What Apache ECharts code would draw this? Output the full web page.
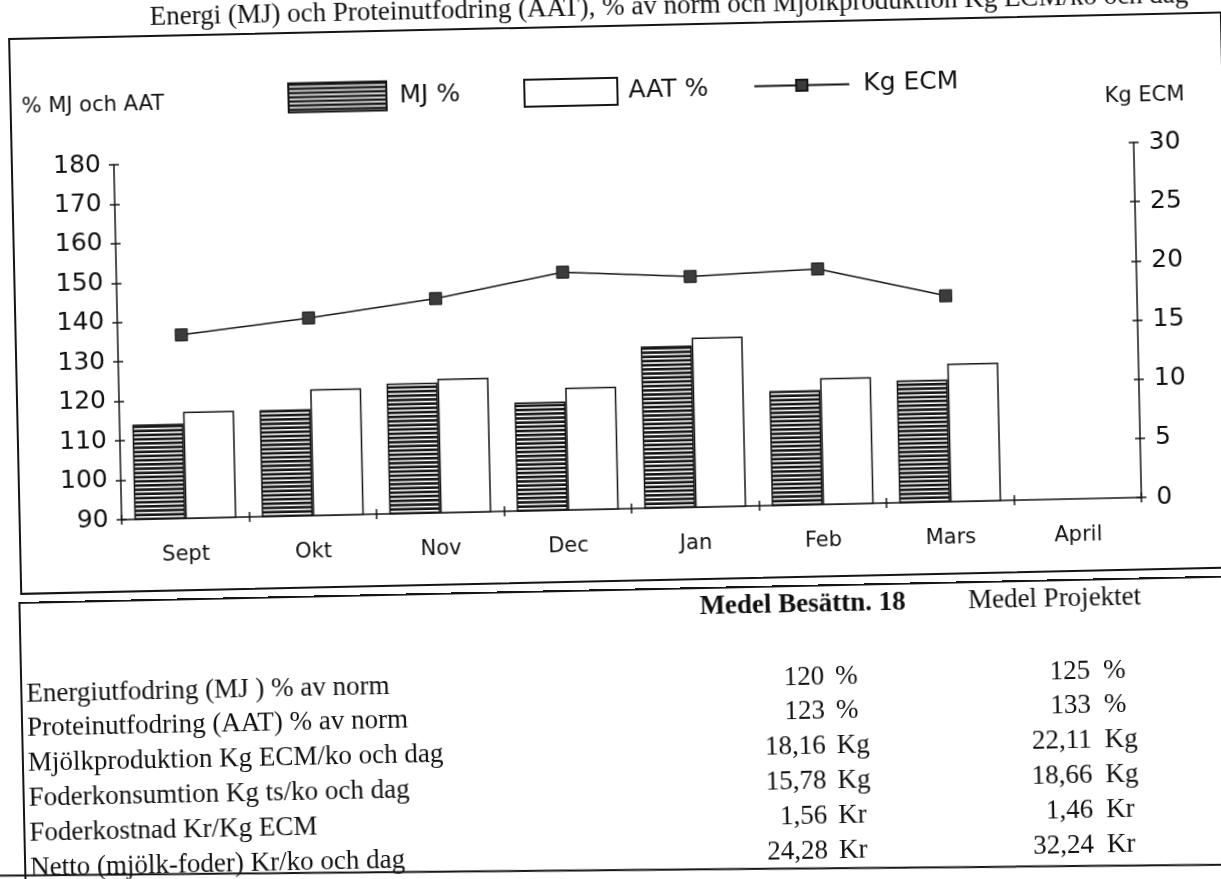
<!DOCTYPE html>
<html>
<head>
<meta charset="utf-8">
<script src="https://cdn.jsdelivr.net/npm/echarts@6/dist/echarts.min.js"></script>
<style>
  html, body { margin: 0; padding: 0; background: #fff; width: 1221px; height: 879px; overflow: hidden; }
  /* whole sheet, slightly turned as on the scanned page */
  #page { position: absolute; left: 0; top: 0; width: 1221px; height: 879px;
          transform-origin: 610.5px 439.5px; transform: rotate(-1.25deg); }
  #frame { position: absolute; left: 17px; top: 25px; width: 1214px; height: 557px;
           border: 2px solid #151515; box-sizing: border-box; }
  /* canvas starts 30px above the sheet so the title is not cut by it */
  #chart { position: absolute; left: 0; top: -30px; width: 1221px; height: 630px; }
  #tableBox { position: absolute; left: 15px; top: 589px; width: 1240px; height: 300px;
              border-top: 2px solid #151515; border-left: 2px solid #151515; box-sizing: border-box; }
  #tableBottom { position: absolute; left: -10px; top: 869px; width: 1260px; height: 2px; background: #151515;
                 transform-origin: 600px 1px; transform: rotate(0.74deg); }
  .t { position: absolute; font-family: "Liberation Serif", "Times New Roman", serif; font-size: 27px;
       color: #111; white-space: nowrap; height: 34.8px; line-height: 34.8px; }
  .hd { transform: translateX(-50%); }
  .num { text-align: right; }
</style>
</head>
<body>
<div id="page">
  <div id="frame"></div>
  <div id="chart"></div>
  <div id="tableBox"></div>
  <div id="tableBottom"></div>
  <div id="table"></div>
</div>
<script>
// Monthly feeding level (% of norm) and milk yield
const months = ['Sept', 'Okt', 'Nov', 'Dec', 'Jan', 'Feb', 'Mars', 'April'];
const mjPct  = [114, 117, 123, 117.5, 131, 119, 121, null];
const aatPct = [117, 122, 124, 121, 133, 122, 125, null];
const kgEcm  = [15.5, 16.7, 18.1, 20.1, 19.5, 19.9, 17.4, null];

// Summary table below the chart
const rowLabels = [
  'Energiutfodring (MJ ) % av norm',
  'Proteinutfodring (AAT) % av norm',
  'Mjölkproduktion Kg ECM/ko och dag',
  'Foderkonsumtion Kg ts/ko och dag',
  'Foderkostnad Kr/Kg ECM',
  'Netto (mjölk-foder) Kr/ko och dag'
];
const colHeaders = ['Medel Besättn. 18', 'Medel Projektet'];
const besattning = ['120', '123', '18,16', '15,78', '1,56', '24,28'];
const projektet  = ['125', '133', '22,11', '18,66', '1,46', '32,24'];
const units      = ['%', '%', 'Kg', 'Kg', 'Kr', 'Kr'];

// ---- table ----
const table = document.getElementById('table');
function cell(text, css, cls) {
  const d = document.createElement('div');
  d.className = 't' + (cls ? ' ' + cls : '');
  d.textContent = text;
  Object.assign(d.style, css);
  table.appendChild(d);
}
const rowH = 34.8, firstRow = 680;
cell(colHeaders[0], { left: '799px', top: (607 - rowH / 2) + 'px', fontWeight: 'bold' }, 'hd');
cell(colHeaders[1], { left: '1051px', top: (607 - rowH / 2) + 'px' }, 'hd');
rowLabels.forEach((lab, i) => {
  const top = (firstRow + i * rowH - rowH / 2) + 'px';
  cell(lab, { left: '21px', top });
  cell(besattning[i], { left: '0px', width: '819px', top }, 'num');
  cell(units[i], { left: '830px', top });
  cell(projektet[i], { left: '0px', width: '1085px', top }, 'num');
  cell(units[i], { left: '1098px', top });
});

// ---- chart ----
const OY = 30; // canvas offset above the sheet
function stripes() {
  const c = document.createElement('canvas');
  c.width = 8; c.height = 21;
  const g = c.getContext('2d');
  g.fillStyle = '#fff'; g.fillRect(0, 0, 8, 21);
  g.fillStyle = '#151515';
  for (let k = 0; k < 5; k++) g.fillRect(0, k * 4.2, 8, 2.6);
  return c;
}
const ink = '#151515';
const sans = '"DejaVu Sans", sans-serif';
const chart = echarts.init(document.getElementById('chart'), null, { renderer: 'canvas' });

const axisLine = { show: true, onZero: false, lineStyle: { color: ink, width: 1.5 } };
const tickOut = { show: true, length: 5, lineStyle: { color: ink, width: 1.5 } };
const tickIn = { show: true, inside: true, length: 5, lineStyle: { color: ink, width: 1.5 } };

chart.setOption({
  animation: false,
  title: {
    text: 'Energi (MJ) och Proteinutfodring (AAT), % av norm och Mjölkproduktion Kg ECM/ko och dag',
    left: 159, top: OY - 6, padding: 0,
    textStyle: { fontFamily: '"Liberation Serif", serif', fontSize: 27, fontWeight: 'normal', color: '#111' }
  },
  legend: [
    { data: [{ name: 'MJ %', icon: 'rect' }], left: 295, top: OY + 75.5, padding: 0, itemWidth: 98, itemHeight: 29,
      textStyle: { fontFamily: sans, fontSize: 25, color: '#111', padding: [0, 0, 0, 8] } },
    { data: [{ name: 'AAT %', icon: 'rect' }], left: 531, top: OY + 77, padding: 0, itemWidth: 93, itemHeight: 27,
      textStyle: { fontFamily: sans, fontSize: 25, color: '#111', padding: [0, 0, 0, 6] } },
    { data: ['Kg ECM'], left: 761, top: OY + 77, padding: 0, itemWidth: 95, itemHeight: 14,
      textStyle: { fontFamily: sans, fontSize: 25, color: '#111', padding: [0, 0, 0, 9] } }
  ],
  graphic: [
    { type: 'text', x: 29, y: OY + 95, style: { text: '% MJ och AAT', fill: '#111', font: '21px ' + sans, textVerticalAlign: 'middle' } },
    { type: 'text', x: 1112, y: OY + 108, style: { text: 'Kg ECM', fill: '#111', font: '21px ' + sans, textVerticalAlign: 'middle' } }
  ],
  grid: { left: 120, top: OY + 154, width: 1020, height: 355, containLabel: false },
  xAxis: [
    { type: 'category', data: months, position: 'bottom', boundaryGap: true,
      axisLine, axisTick: tickOut,
      axisLabel: { interval: 0, margin: 26, fontFamily: sans, fontSize: 21, color: '#111' },
      splitLine: { show: false } },
    { type: 'category', data: months, position: 'bottom', boundaryGap: true,
      axisLine: { show: false }, axisTick: tickIn, axisLabel: { show: false }, splitLine: { show: false } }
  ],
  yAxis: [
    { type: 'value', position: 'left', min: 90, max: 180, interval: 10,
      axisLine, axisTick: tickOut,
      axisLabel: { margin: 13, fontFamily: sans, fontSize: 25, color: '#111' }, splitLine: { show: false } },
    { type: 'value', position: 'right', min: 0, max: 30, interval: 5,
      axisLine, axisTick: tickOut,
      axisLabel: { margin: 15, fontFamily: sans, fontSize: 25, color: '#111' }, splitLine: { show: false } },
    { type: 'value', position: 'left', min: 90, max: 180, interval: 10,
      axisLine: { show: false }, axisTick: tickIn, axisLabel: { show: false }, splitLine: { show: false } },
    { type: 'value', position: 'right', min: 0, max: 30, interval: 5,
      axisLine: { show: false }, axisTick: tickIn, axisLabel: { show: false }, splitLine: { show: false } }
  ],
  series: [
    { name: 'MJ %', type: 'bar', xAxisIndex: 0, yAxisIndex: 0, data: mjPct,
      barWidth: 51, barGap: '0%',
      itemStyle: { color: { image: stripes(), repeat: 'repeat' }, borderColor: ink, borderWidth: 1.5 } },
    { name: 'AAT %', type: 'bar', xAxisIndex: 0, yAxisIndex: 0, data: aatPct,
      barWidth: 51, barGap: '0%',
      itemStyle: { color: '#fff', borderColor: ink, borderWidth: 1.5 } },
    { name: 'Kg ECM', type: 'line', xAxisIndex: 0, yAxisIndex: 1, data: kgEcm,
      symbol: 'rect', symbolSize: 12, connectNulls: false,
      lineStyle: { color: ink, width: 1.5 },
      itemStyle: { color: '#3c3c3c', borderColor: ink, borderWidth: 1 } }
  ]
});
</script>
</body>
</html>
